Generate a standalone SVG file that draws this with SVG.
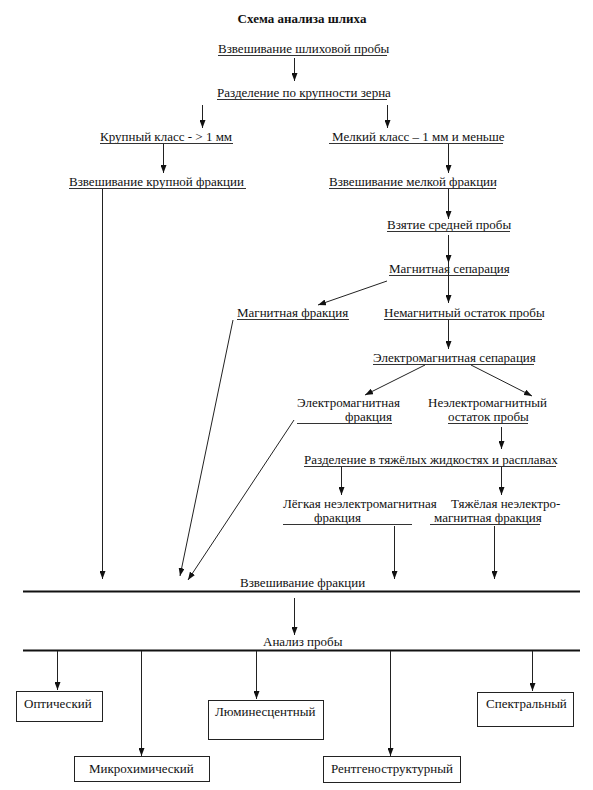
<svg xmlns="http://www.w3.org/2000/svg" width="593" height="790" viewBox="0 0 593 790">
<style>
text{font-family:"Liberation Serif","DejaVu Serif",serif;font-size:13px;fill:#111}
.t{font-weight:bold;text-anchor:middle}
.ul{stroke:#333;stroke-width:1}
.c line{stroke:#222;stroke-width:1;marker-end:url(#ah)}
.bar{stroke:#111;stroke-width:2}
.box{fill:#fff;stroke:#222;stroke-width:1}
</style>
<defs>
<marker id="ah" viewBox="0 0 10 10" refX="10" refY="5" markerWidth="8" markerHeight="6" markerUnits="userSpaceOnUse" orient="auto" preserveAspectRatio="none">
<path d="M0,0 L10,5 L0,10 z" fill="#111"/>
</marker>
</defs>
<rect width="593" height="790" fill="#fff"/>
<text class="t" x="302" y="23">Схема анализа шлиха</text>

<g id="n1"><text x="218" y="53">Взвешивание шлиховой пробы</text><line class="ul" x1="218" y1="55.5" x2="387" y2="55.5"/></g>
<g id="n2"><text x="217" y="97">Разделение по крупности зерна</text><line class="ul" x1="217" y1="99.5" x2="387" y2="99.5"/></g>
<g id="n3"><text x="100" y="141">Крупный класс - &gt; 1 мм</text><line class="ul" x1="100" y1="143.5" x2="233" y2="143.5"/></g>
<g id="n4"><text x="332" y="141">Мелкий класс – 1 мм и меньше</text><line class="ul" x1="329" y1="143.5" x2="503" y2="143.5"/></g>
<g id="n5"><text x="69" y="186">Взвешивание крупной фракции</text><line class="ul" x1="69" y1="188.5" x2="246" y2="188.5"/></g>
<g id="n6"><text x="329" y="186">Взвешивание мелкой фракции</text><line class="ul" x1="329" y1="188.5" x2="496" y2="188.5"/></g>
<g id="n7"><text x="387" y="229">Взятие средней пробы</text><line class="ul" x1="387" y1="231.5" x2="510" y2="231.5"/></g>
<g id="n8"><text x="389" y="273">Магнитная сепарация</text><line class="ul" x1="389" y1="275.5" x2="508" y2="275.5"/></g>
<g id="n9"><text x="237" y="317">Магнитная фракция</text><line class="ul" x1="237" y1="319.5" x2="349" y2="319.5"/></g>
<g id="n10"><text x="384" y="317">Немагнитный остаток пробы</text><line class="ul" x1="384" y1="319.5" x2="542" y2="319.5"/></g>
<g id="n11"><text x="373" y="362">Электромагнитная сепарация</text><line class="ul" x1="373" y1="364.5" x2="534" y2="364.5"/></g>
<g id="n12"><text x="297" y="407">Электромагнитная</text><text x="345" y="421">фракция</text><line class="ul" x1="297" y1="423.5" x2="392" y2="423.5"/></g>
<g id="n13"><text x="428" y="407">Неэлектромагнитный</text><text x="448" y="421">остаток пробы</text><line class="ul" x1="448" y1="423.5" x2="528" y2="423.5"/></g>
<g id="n14"><text x="304" y="464">Разделение в тяжёлых жидкостях и расплавах</text><line class="ul" x1="304" y1="466.5" x2="556" y2="466.5"/></g>
<g id="n15"><text x="283" y="508">Лёгкая неэлектромагнитная</text><text x="314" y="522">фракция</text><line class="ul" x1="283" y1="524.5" x2="412" y2="524.5"/></g>
<g id="n16"><text x="451" y="508">Тяжёлая неэлектро-</text><text x="434" y="522">магнитная фракция</text><line class="ul" x1="430" y1="524.5" x2="540" y2="524.5"/></g>
<g id="n17"><text x="240" y="587">Взвешивание фракции</text><line class="bar" x1="23" y1="591.5" x2="580" y2="591.5"/></g>
<g id="n18"><text x="263" y="646">Анализ пробы</text><line class="bar" x1="23" y1="650.5" x2="580" y2="650.5"/></g>
<g id="b1"><rect class="box" x="16.5" y="691.5" width="86" height="30"/><text x="24" y="708">Оптический</text></g>
<g id="b2"><rect class="box" x="74.5" y="756.5" width="135" height="25"/><text x="89" y="773">Микрохимический</text></g>
<g id="b3"><rect class="box" x="208.5" y="700.5" width="115" height="39"/><text x="215" y="716">Люминесцентный</text></g>
<g id="b4"><rect class="box" x="323.5" y="756.5" width="137" height="26"/><text x="331" y="773">Рентгеноструктурный</text></g>
<g id="b5"><rect class="box" x="477.5" y="692.5" width="96" height="34"/><text x="486" y="708">Спектральный</text></g>

<g class="c" id="connectors">
<line x1="294.5" y1="58" x2="294.5" y2="81"/>
<line x1="202.5" y1="105" x2="202.5" y2="128"/>
<line x1="387.5" y1="105" x2="387.5" y2="128"/>
<line x1="163.5" y1="144" x2="163.5" y2="173"/>
<line x1="448.5" y1="144" x2="448.5" y2="173"/>
<line x1="102.5" y1="189" x2="102.5" y2="579"/>
<line x1="448.5" y1="189" x2="448.5" y2="219"/>
<line x1="448.5" y1="235" x2="448.5" y2="263"/>
<line x1="448.5" y1="263" x2="448.5" y2="303"/>
<line x1="387" y1="281" x2="318" y2="305"/>
<line x1="448.5" y1="320" x2="448.5" y2="349"/>
<line x1="425" y1="365" x2="365" y2="395"/>
<line x1="471" y1="365" x2="532" y2="396"/>
<line x1="233" y1="320" x2="180" y2="576"/>
<line x1="294" y1="420" x2="188" y2="580"/>
<line x1="501.5" y1="427" x2="501.5" y2="449"/>
<line x1="341.5" y1="467" x2="341.5" y2="495"/>
<line x1="501.5" y1="467" x2="501.5" y2="495"/>
<line x1="394.5" y1="526" x2="394.5" y2="579"/>
<line x1="494.5" y1="526" x2="494.5" y2="579"/>
<line x1="294.5" y1="598" x2="294.5" y2="635"/>
<line x1="57.5" y1="651" x2="57.5" y2="690"/>
<line x1="141.5" y1="651" x2="141.5" y2="756"/>
<line x1="256.5" y1="651" x2="256.5" y2="699"/>
<line x1="390.5" y1="651" x2="390.5" y2="756"/>
<line x1="532.5" y1="651" x2="532.5" y2="691"/>
</g>
</svg>
